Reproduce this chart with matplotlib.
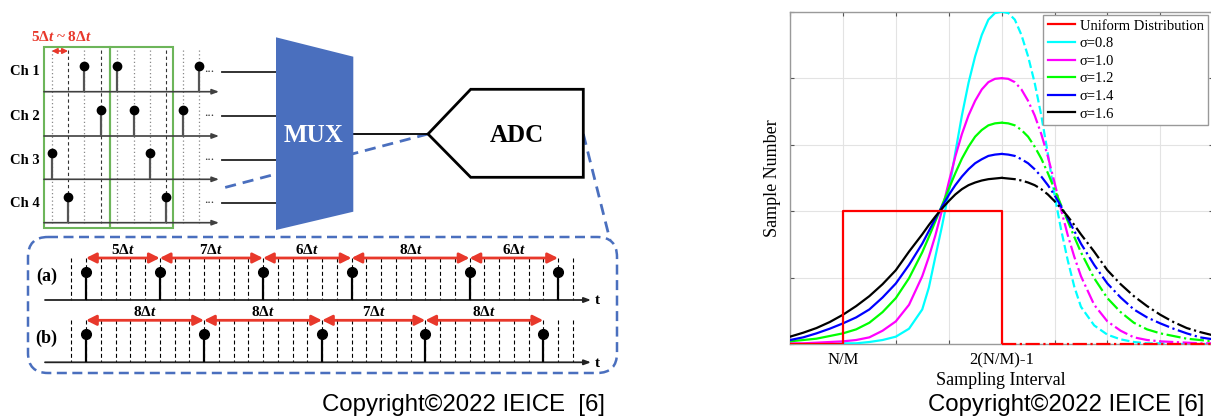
import matplotlib
matplotlib.use("Agg")
import matplotlib.pyplot as plt
from matplotlib.patches import Polygon, FancyBboxPatch, Rectangle

plt.rcParams["mathtext.fontset"] = "custom"
plt.rcParams["mathtext.it"] = "Liberation Serif:italic:bold"
plt.rcParams["mathtext.rm"] = "Liberation Serif:bold"

SERIF = "Liberation Serif"
SANS = "Liberation Sans"
RED = "#e8382b"
BLUE = "#4a6fbe"

# ---- left diagram data ----
CHANNELS = ["Ch 1", "Ch 2", "Ch 3", "Ch 4"]
CHANNEL_SLOTS = [[2, 4, 9], [3, 5, 8], [0, 6], [1, 7]]
N_SLOTS = 10
DARK_SLOTS = [1, 3, 7]
INTERVALS_A = [5, 7, 6, 8, 6]
INTERVALS_B = [8, 8, 7, 8]
RANGE_LABEL = "5Δ$t$ ~ 8Δ$t$"

# ---- right chart data ----
X_LEFT = [0, 0.25, 0.5, 0.75, 1, 1.25, 1.5, 1.75, 2, 2.25, 2.5,
          2.625, 2.75, 2.875, 3, 3.125, 3.25, 3.375, 3.5, 3.625, 3.75, 3.875, 4]
X_RIGHT = [4, 4.125, 4.25, 4.375, 4.5, 4.625, 4.75, 4.875, 5, 5.125, 5.25, 5.375,
           5.5, 5.75, 6, 6.25, 6.5, 6.75, 7, 7.25, 7.5, 7.75, 8]
SIGMA_LABELS = ["σ=0.8", "σ=1.0", "σ=1.2", "σ=1.4", "σ=1.6"]
SIGMA_COLORS = ["#00ffff", "#ff00ff", "#00ff00", "#0000ff", "#000000"]
CURVES_LEFT = [
    [0.00, 0.00, 0.00, 0.00, 0.01, 0.01, 0.03, 0.06, 0.11, 0.23, 0.52,
     0.85, 1.32, 1.78, 2.28, 2.88, 3.44, 3.93, 4.33, 4.65, 4.88, 4.98, 5.00],
    [0.01, 0.01, 0.02, 0.03, 0.04, 0.06, 0.10, 0.20, 0.34, 0.59, 1.02,
     1.31, 1.64, 2.02, 2.43, 2.82, 3.16, 3.44, 3.66, 3.83, 3.94, 3.99, 4.00],
    [0.04, 0.06, 0.08, 0.12, 0.16, 0.22, 0.32, 0.48, 0.69, 0.99, 1.38,
     1.61, 1.85, 2.09, 2.33, 2.57, 2.79, 2.97, 3.12, 3.22, 3.29, 3.32, 3.33],
    [0.06, 0.10, 0.16, 0.23, 0.31, 0.40, 0.52, 0.70, 0.91, 1.19, 1.51,
     1.70, 1.89, 2.07, 2.24, 2.39, 2.52, 2.63, 2.72, 2.78, 2.83, 2.85, 2.86],
    [0.11, 0.17, 0.24, 0.33, 0.44, 0.57, 0.72, 0.90, 1.11, 1.39, 1.65,
     1.79, 1.92, 2.04, 2.15, 2.25, 2.33, 2.39, 2.43, 2.46, 2.48, 2.49, 2.50],
]
CURVES_RIGHT = [
    [5.00, 4.98, 4.88, 4.65, 4.33, 3.93, 3.44, 2.86, 2.24, 1.72, 1.26, 0.86,
     0.56, 0.28, 0.14, 0.07, 0.03, 0.01, 0.01, 0.00, 0.00, 0.00, 0.00],
    [4.00, 3.99, 3.94, 3.83, 3.66, 3.44, 3.16, 2.82, 2.43, 2.02, 1.64, 1.31,
     1.02, 0.59, 0.34, 0.20, 0.10, 0.06, 0.04, 0.03, 0.02, 0.01, 0.01],
    [3.33, 3.32, 3.29, 3.22, 3.12, 2.97, 2.79, 2.57, 2.33, 2.09, 1.85, 1.61,
     1.38, 0.99, 0.69, 0.48, 0.32, 0.22, 0.16, 0.12, 0.08, 0.06, 0.04],
    [2.86, 2.85, 2.83, 2.78, 2.72, 2.63, 2.52, 2.39, 2.24, 2.07, 1.89, 1.70,
     1.51, 1.19, 0.91, 0.70, 0.52, 0.40, 0.31, 0.23, 0.16, 0.10, 0.07],
    [2.50, 2.49, 2.48, 2.46, 2.43, 2.39, 2.33, 2.25, 2.15, 2.04, 1.92, 1.79,
     1.65, 1.39, 1.11, 0.90, 0.72, 0.57, 0.44, 0.33, 0.24, 0.18, 0.13],
]
UNIFORM_X = [0, 1, 1, 4, 4]
UNIFORM_Y = [0, 0, 2, 2, 0]
X_TICK_LABELS = ["", "N/M", "", "", "2(N/M)-1", "", "", "", ""]


def arrow(ax, x0, y0, x1, y1, color, lw, style, ms=10, z=3):
    ax.annotate("", xy=(x1, y1), xytext=(x0, y0),
                arrowprops=dict(arrowstyle=style, color=color, lw=lw,
                                shrinkA=0, shrinkB=0, mutation_scale=ms),
                zorder=z)


fig = plt.figure(figsize=(12.11, 4.17), dpi=100)
ax0 = fig.add_axes([0, 0, 1, 1])
ax0.set_xlim(0, 1211)
ax0.set_ylim(417, 0)
ax0.axis("off")

# ---- channel timing (top left) ----
slot_x0, slot_dx = 51.7, 16.37
axis_ys = [91.7, 136, 179.3, 222.7]
for k in range(N_SLOTS):
    x = slot_x0 + k * slot_dx
    if k in DARK_SLOTS:
        ax0.plot([x, x], [50, 223], color="#333333", lw=0.8, ls=(0, (3, 2.5)), zorder=1)
    else:
        ax0.plot([x, x], [50, 223], color="#888888", lw=0.9, ls=(0, (1, 2)), zorder=1)

ax0.add_patch(Rectangle((44, 47), 66, 181, fill=False, ec="#6db55a", lw=1.5, zorder=2))
ax0.add_patch(Rectangle((110, 47), 63, 181, fill=False, ec="#6db55a", lw=1.5, zorder=2))

ax0.text(61, 37, RANGE_LABEL, color=RED, family=SERIF, fontweight="bold",
         fontsize=11, ha="center", va="center")
arrow(ax0, slot_x0, 51, slot_x0 + slot_dx, 51, RED, 1.2,
      "<|-|>,head_length=0.4,head_width=0.2", ms=8)

input_ys = [71.7, 116, 160, 203.3]
for i, name in enumerate(CHANNELS):
    ay = axis_ys[i]
    arrow(ax0, 44, ay, 219, ay, "#404040", 1.2, "-|>,head_length=0.4,head_width=0.15", ms=10)
    xs = [slot_x0 + k * slot_dx for k in CHANNEL_SLOTS[i]]
    ax0.vlines(xs, ay, ay - 26, color="#555555", lw=1.6, zorder=3)
    ax0.plot(xs, [ay - 26] * len(xs), "o", color="black", ms=6, zorder=4)
    ax0.text(25, input_ys[i], name, family=SERIF, fontweight="bold", fontsize=10.5,
             ha="center", va="center")
    ax0.text(209, input_ys[i] - 3, "...", family=SERIF, fontsize=9.5, ha="center",
             va="center", color="#333333")
    ax0.plot([222, 277], [input_ys[i], input_ys[i]], color="#222222", lw=1.3, zorder=3)

# ---- MUX and ADC ----
ax0.plot([428, 223], [134, 188], color=BLUE, lw=2, ls=(0, (4, 2.5)), zorder=2)
ax0.plot([583.3, 610], [134, 240], color=BLUE, lw=2, ls=(0, (4, 2.5)), zorder=2)
ax0.add_patch(Polygon([(276, 37.3), (353.3, 56.7), (353.3, 211.7), (276, 230)],
                      closed=True, fc=BLUE, ec="none", zorder=5))
ax0.text(313, 135, "MUX", color="white", family=SERIF, fontweight="bold",
         fontsize=18, ha="center", va="center", zorder=6)
ax0.plot([353.3, 428], [134, 134], color="black", lw=1.3, zorder=3)
ax0.add_patch(Polygon([(428, 134), (470.7, 89.3), (583.3, 89.3), (583.3, 177.3), (470.7, 177.3)],
                      closed=True, fc="white", ec="black", lw=2, zorder=4))
ax0.text(517, 135, "ADC", color="black", family=SERIF, fontweight="bold",
         fontsize=18, ha="center", va="center", zorder=6)

# ---- zoomed sampling sequences (bottom left) ----
ax0.add_patch(FancyBboxPatch((28, 237), 589, 136, boxstyle="round,pad=0,rounding_size=20",
                             fill=False, ec=BLUE, lw=1.8, ls=(0, (4, 2.2)), zorder=2))

dt, t0 = 14.75, 86
rows = [(INTERVALS_A, 300, "(a)"), (INTERVALS_B, 362.3, "(b)")]
for intervals, ay, tag in rows:
    top = ay - 42
    for k in range(-1, 34):
        x = t0 + k * dt
        ax0.plot([x, x], [top, ay], color="black", lw=0.8, ls=(0, (3.6, 2.4)), zorder=1)
    arrow(ax0, 45, ay, 591, ay, "#222222", 1.3, "-|>,head_length=0.4,head_width=0.15", ms=10)
    ax0.text(597.7, ay + 1, "t", family=SERIF, fontweight="bold", fontsize=11,
             ha="center", va="center")
    ax0.text(46.7, ay - 23.5, tag, family=SERIF, fontweight="bold", fontsize=13,
             ha="center", va="center")
    pos = [0]
    for n in intervals:
        pos.append(pos[-1] + n)
    xs = [t0 + p * dt for p in pos]
    ax0.vlines(xs, ay, ay - 28, color="black", lw=1.6, zorder=3)
    ax0.plot(xs, [ay - 28] * len(xs), "o", color="black", ms=7, zorder=4)
    for j, n in enumerate(intervals):
        arrow(ax0, xs[j], top, xs[j + 1], top, RED, 2,
              "<|-|>,head_length=0.6,head_width=0.3", ms=10)
        ax0.text((xs[j] + xs[j + 1]) / 2, top - 8.5, f"{n}Δ$t$", family=SERIF,
                 fontweight="bold", fontsize=11, ha="center", va="center")

ax0.text(322, 405, "Copyright©2022 IEICE  [6]", family=SANS, fontsize=17.3,
         ha="left", va="center")
ax0.text(928, 405, "Copyright©2022 IEICE [6]", family=SANS, fontsize=17.3,
         ha="left", va="center")

# ---- right chart ----
W, H = 1211, 417
ax1 = fig.add_axes([790 / W, (H - 344) / H, (1213.2 - 790) / W, (344 - 11.7) / H])
ax1.set_xlim(0, 8)
ax1.set_ylim(0, 5)
ax1.set_axisbelow(True)
ax1.grid(True, color="#e3e3e3", lw=0.8)
for s in ax1.spines.values():
    s.set_color("#9a9a9a")
    s.set_linewidth(1.0)
ax1.set_xticks(range(9))
ax1.set_xticklabels(X_TICK_LABELS, family=SERIF, fontsize=12)
ax1.set_yticks(range(6))
ax1.set_yticklabels([])
ax1.tick_params(direction="in", top=True, right=True, length=3, color="#555555", pad=6)

handles = []
h, = ax1.plot(UNIFORM_X, UNIFORM_Y, color="#ff0000", lw=1.6, zorder=6)
ax1.plot([4, 8], [0, 0], color="#ff0000", lw=1.6, ls="-.", zorder=6, clip_on=False)
handles.append(h)
for i in range(len(SIGMA_LABELS)):
    h, = ax1.plot(X_LEFT, CURVES_LEFT[i], color=SIGMA_COLORS[i], lw=1.6, zorder=4)
    ax1.plot(X_RIGHT, CURVES_RIGHT[i], color=SIGMA_COLORS[i], lw=1.6, zorder=4,
             ls="--" if i == 0 else "-.")
    handles.append(h)

ax1.set_xlabel("Sampling Interval", family=SERIF, fontsize=13)
ax1.xaxis.set_label_coords((1001 - 790) / 423.2, (344 - 372) / 332.3)
ax1.set_ylabel("Sample Number", family=SERIF, fontsize=13)
ax1.yaxis.set_label_coords((781 - 790) / 423.2, 0.5)

leg = ax1.legend(handles, ["Uniform Distribution"] + SIGMA_LABELS, loc="upper right",
                 bbox_to_anchor=(1208 / W, 1 - 15 / H), bbox_transform=fig.transFigure,
                 borderaxespad=0, prop=dict(family=SERIF, size=10.5), handlelength=1.9,
                 handletextpad=0.3, labelspacing=0.3, borderpad=0.3, fancybox=False,
                 edgecolor="#999999", framealpha=1)
leg.get_frame().set_linewidth(1.0)

fig.savefig("out.png", dpi=100)
